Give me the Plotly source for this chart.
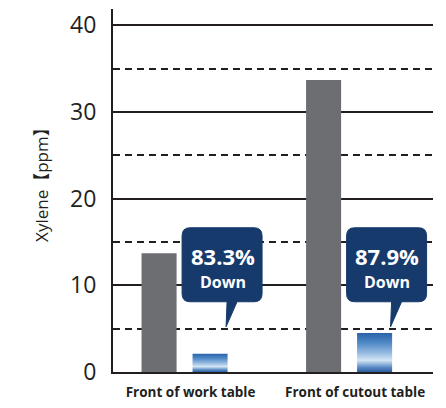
import plotly.graph_objects as go

# ---- data ----
categories = ["Front of work table", "Front of cutout table"]
before_ppm = [13.7, 33.7]
after_ppm = [2.1, 4.5]
reduction_labels = ["83.3%", "87.9%"]
y_tick_values = [0, 10, 20, 30, 40]
y_title = "Xylene【ppm】"

# ---- style ----
GRAY = "#6d6e71"
NAVY = "#173a6c"
INK = "#231f20"
BAR_W = 0.213
OFF = 0.155
FONT = "Open Sans, Noto Sans CJK JP, sans-serif"

xpos = list(range(len(categories)))
x_before = [i - OFF for i in xpos]
x_after = [i + OFF for i in xpos]

fig = go.Figure()

fig.add_trace(go.Bar(
    x=x_before, y=before_ppm, width=BAR_W,
    marker=dict(color=GRAY, line=dict(width=0)),
    showlegend=False, hoverinfo="y",
))

grad = [[0.0, "#2b5d9f"], [0.12, "#5b8cc6"], [0.3, "#d3e6f5"],
        [0.5, "#93b8e0"], [0.75, "#5089c6"], [1.0, "#2a63a9"]]
for xa, ya in zip(x_after, after_ppm):
    fig.add_trace(go.Scatter(
        x=[xa - BAR_W / 2, xa + BAR_W / 2, xa + BAR_W / 2, xa - BAR_W / 2, xa - BAR_W / 2],
        y=[0, 0, ya, ya, 0],
        mode="lines", line=dict(width=0), fill="toself",
        fillgradient=dict(type="vertical", colorscale=grad, start=0, stop=ya),
        showlegend=False, hoverinfo="skip",
    ))

# callouts (bubble with tail pointing down towards the reduced bar)
TIP_Y = 5.22
DX = 16  # tail tip sits 16px right of the bar centre
r = 8
L, R, B, T = DX - 44, DX + 36, 25, 99
bubble = (f"M {DX+1},{B} L {DX},0 L {DX+11},{B} L {R-r},{B} Q {R},{B} {R},{B+r} "
          f"L {R},{T-r} Q {R},{T} {R-r},{T} L {L+r},{T} Q {L},{T} {L},{T-r} "
          f"L {L},{B+r} Q {L},{B} {L+r},{B} Z")
for xa, lab in zip(x_after, reduction_labels):
    fig.add_shape(
        type="path", path=bubble, xref="x", yref="y",
        xsizemode="pixel", ysizemode="pixel", xanchor=xa, yanchor=TIP_Y,
        fillcolor=NAVY, line=dict(color=NAVY, width=1), layer="above",
    )
    fig.add_annotation(x=xa, y=TIP_Y, xref="x", yref="y", text=f"<b>{lab}</b>",
                       showarrow=False, xshift=DX - 3.5, yshift=71,
                       font=dict(family=FONT, size=22, color="white"))
    fig.add_annotation(x=xa, y=TIP_Y, xref="x", yref="y", text="<b>Down</b>",
                       showarrow=False, xshift=DX - 3.5, yshift=45,
                       font=dict(family=FONT, size=16, color="white"))

# y-axis title (placed a little above the plot's centre, as in the original)
fig.add_annotation(x=-0.222, y=0.529, xref="paper", yref="paper", text=y_title,
                   textangle=-90, showarrow=False, xanchor="center", yanchor="middle",
                   font=dict(family=FONT, size=17, color=INK))

# page body adds an 8px margin, so the figure is 16px smaller than the window
fig.update_layout(
    width=430, height=392,
    margin=dict(l=105, r=5, t=1, b=28),
    paper_bgcolor="white", plot_bgcolor="white",
    font=dict(family=FONT, color=INK),
    xaxis=dict(
        range=[-0.435, 1.51], tickmode="array", tickvals=xpos, ticktext=categories,
        showgrid=False, zeroline=False, showline=True, linecolor=INK, linewidth=2,
        ticks="", tickfont=dict(family=FONT, size=13.5, color=INK, weight="bold"),
        ticklabelshift=6, ticklabelstandoff=7, fixedrange=True, automargin=False,
    ),
    yaxis=dict(
        range=[0, 41.88], tickmode="array", tickvals=y_tick_values,
        showgrid=True, gridcolor=INK, gridwidth=1.5,
        minor=dict(dtick=5, tick0=0, showgrid=True, gridcolor=INK, gridwidth=1.5,
                   griddash="7px,5px", ticks=""),
        zeroline=False, showline=True, linecolor=INK, linewidth=2,
        ticks="", tickfont=dict(family=FONT, size=23, color=INK),
        ticklabelstandoff=10, automargin=False, fixedrange=True,
    ),
)

fig.write_html("out.html")
